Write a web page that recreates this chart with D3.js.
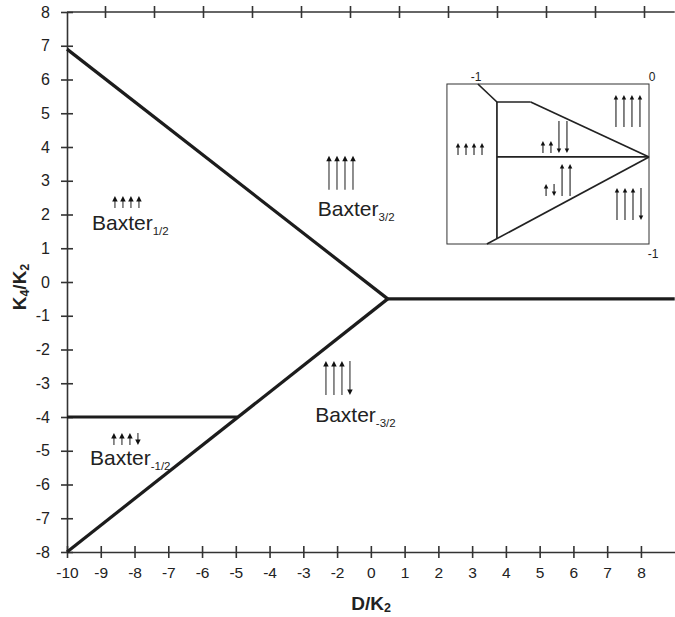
<!DOCTYPE html>
<html>
<head>
<meta charset="utf-8">
<script src="https://cdn.jsdelivr.net/npm/d3@7"></script>
<style>
body { margin: 0; background: #fff; }
svg { font-family: "Liberation Sans", Arial, sans-serif; }
.axis path, .axis line { stroke: #333; stroke-width: 1.6; }
.axis text { font-size: 15.5px; fill: #222; font-family: "Liberation Sans", Arial, sans-serif; }
.boundary { fill: none; stroke: #1c1c1c; stroke-width: 3.2; }
.inset-line { fill: none; stroke: #222; stroke-width: 1.7; }
</style>
</head>
<body>
<div id="chart"></div>
<script>

// axis ticks, as printed (the printed x axis has no "-1")
var xTickValues = [-10, -9, -8, -7, -6, -5, -4, -3, -2, -1, 0, 1, 2, 3, 4, 5, 6, 7];
var xTickLabels = ["-10", "-9", "-8", "-7", "-6", "-5", "-4", "-3", "-2", "0", "1", "2", "3", "4", "5", "6", "7", "8"];
var yTickValues = [-8, -7, -6, -5, -4, -3, -2, -1, 0, 1, 2, 3, 4, 5, 6, 7, 8];
var topTickValues = [0, 1, 2, 3, 4, 5, 6, 7, 8, 9, 10, 11];

// phase boundaries
var upperBoundary = [[-10, 6.9], [-0.5, -0.5]];
var lowerBoundary = [[-10, -8], [-0.5, -0.5]];
var rightBoundary = [[-0.5, -0.5], [8, -0.5]];
var leftBoundary = [[-10, -4], [-4.95, -4]];

// phase labels and their spin configurations
var phaseSub = ["1/2", "3/2", "-3/2", "-1/2"];
var phaseTextX = [-9.26, -2.57, -2.65, -9.32];
var phaseTextY = [1.54, 1.96, -4.15, -5.42];
var phaseSpinX = [-8.58, -2.24, -2.33, -8.61];
var phaseSpinY = [2.19, 2.73, -3.35, -4.83];
var phaseSpins = [[0.5, 0.5, 0.5, 0.5], [1.5, 1.5, 1.5, 1.5], [1.5, 1.5, 1.5, -1.5], [0.5, 0.5, 0.5, -0.5]];

// inset (zoom near the triple point)
var insetBox = [[-1.168, 0], [0, -1]];
var insetLines = [
    [[-0.989, 0], [-0.879, -0.1125]],
    [[-0.879, -0.1125], [-0.879, -0.9625]],
    [[-0.879, -0.1125], [-0.684, -0.1125]],
    [[-0.684, -0.1125], [0, -0.456]],
    [[-0.879, -0.456], [0, -0.456]],
    [[-0.937, -1], [0, -0.456]]
];
var insetTopLabels = [-1, 0];
var insetSideLabel = -1;
var insetSpinX = [-1.104, -0.191, -0.613, -0.595, -0.185];
var insetSpinY = [-0.444, -0.269, -0.431, -0.70, -0.85];
var insetSpins = [[0.5, 0.5, 0.5, 0.5], [1.5, 1.5, 1.5, 1.5], [0.5, 0.5, -1.5, -1.5], [0.5, -0.5, 1.5, 1.5], [1.5, 1.5, 1.5, -1.5]];


var svg = d3.select("#chart").append("svg")
    .attr("width", 675)
    .attr("height", 617);

var x = d3.scaleLinear().domain([-10, 8]).range([67, 674.7]);
var y = d3.scaleLinear().domain([-8, 8]).range([552, 12]);
var xTop = d3.scaleLinear().domain([0, 11]).range([105, 644]);

// bottom axis
var gx = svg.append("g")
    .attr("class", "axis")
    .attr("transform", "translate(0," + y(-8) + ")")
    .call(d3.axisBottom(x)
        .tickValues(xTickValues)
        .tickFormat(function(d, i) { return xTickLabels[i]; })
        .tickSizeInner(6).tickSizeOuter(0).tickPadding(9));
gx.selectAll(".tick line").attr("y1", -6);

// left axis
var gy = svg.append("g")
    .attr("class", "axis")
    .attr("transform", "translate(" + x(-10) + ",0)")
    .call(d3.axisLeft(y)
        .tickValues(yTickValues)
        .tickFormat(function(d) { return String(d); })
        .tickSizeInner(6).tickSizeOuter(0).tickPadding(11));
gy.selectAll(".tick line").attr("x1", 6);
gy.selectAll(".tick text").style("font-size", "16px");

// top frame line with its own ticks
svg.append("line")
    .attr("x1", x(-10)).attr("x2", x(8))
    .attr("y1", y(8)).attr("y2", y(8))
    .attr("stroke", "#333").attr("stroke-width", 1.6);
var gt = svg.append("g")
    .attr("class", "axis")
    .attr("transform", "translate(0," + y(8) + ")")
    .call(d3.axisTop(xTop).tickValues(topTickValues).tickFormat("").tickSizeInner(6).tickSizeOuter(0));
gt.select(".domain").remove();
gt.selectAll(".tick line").attr("y1", 6);

// phase boundaries
var line = d3.line()
    .x(function(d) { return x(d[0]); })
    .y(function(d) { return y(d[1]); });

svg.selectAll(".boundary")
    .data([upperBoundary, lowerBoundary, rightBoundary, leftBoundary])
    .enter().append("path")
    .attr("class", "boundary")
    .attr("d", line);

// spin arrows: short for |s|=1/2, long for |s|=3/2
function drawSpins(g, px, py, spins, shortLen, longLen, gap, head, color) {
    spins.forEach(function(s, i) {
        var cx = px + i * gap;
        var len = Math.abs(s) > 1 ? longLen : shortLen;
        var top = py - len;
        if (s > 0) {
            g.append("line").attr("x1", cx).attr("x2", cx).attr("y1", py).attr("y2", top + head - 0.5)
                .attr("stroke", color).attr("stroke-width", 1.2);
            g.append("path")
                .attr("d", "M" + (cx - head * 0.5) + "," + (top + head) + "L" + cx + "," + top + "L" + (cx + head * 0.5) + "," + (top + head) + "Z")
                .attr("fill", "#111");
        } else {
            g.append("line").attr("x1", cx).attr("x2", cx).attr("y1", top).attr("y2", py - head + 0.5)
                .attr("stroke", color).attr("stroke-width", 1.2);
            g.append("path")
                .attr("d", "M" + (cx - head * 0.5) + "," + (py - head) + "L" + cx + "," + py + "L" + (cx + head * 0.5) + "," + (py - head) + "Z")
                .attr("fill", "#111");
        }
    });
}

var labels = svg.append("g");
phaseSub.forEach(function(sub, i) {
    var t = labels.append("text")
        .attr("x", x(phaseTextX[i]))
        .attr("y", y(phaseTextY[i]))
        .attr("font-size", 21)
        .attr("fill", "#222")
        .text("Baxter");
    t.append("tspan").attr("font-size", 11.5).attr("dy", 5).text(sub);

    drawSpins(labels, x(phaseSpinX[i]), y(phaseSpinY[i]), phaseSpins[i], 12, 34, 8, 5.5, "#444");
});

// inset
var ix = d3.scaleLinear().domain([-1, 0]).range([476, 649]);
var iy = d3.scaleLinear().domain([0, -1]).range([84, 244]);
var inset = svg.append("g");

inset.append("rect")
    .attr("x", ix(insetBox[0][0])).attr("y", iy(insetBox[0][1]))
    .attr("width", ix(insetBox[1][0]) - ix(insetBox[0][0]))
    .attr("height", iy(insetBox[1][1]) - iy(insetBox[0][1]))
    .attr("fill", "none").attr("stroke", "#333").attr("stroke-width", 1);

var iline = d3.line()
    .x(function(d) { return ix(d[0]); })
    .y(function(d) { return iy(d[1]); });

inset.selectAll(".inset-line")
    .data(insetLines)
    .enter().append("path")
    .attr("class", "inset-line")
    .attr("d", iline);

inset.selectAll(".itop")
    .data(insetTopLabels)
    .enter().append("text")
    .attr("class", "itop")
    .attr("x", function(d) { return ix(d) + (d === 0 ? 3 : 0); })
    .attr("y", iy(0) - 3)
    .attr("text-anchor", "middle")
    .attr("font-size", 12)
    .attr("fill", "#222")
    .text(function(d) { return d; });

inset.append("text")
    .attr("x", ix(0) + 4)
    .attr("y", iy(insetSideLabel) + 14)
    .attr("text-anchor", "middle")
    .attr("font-size", 12)
    .attr("fill", "#222")
    .text(insetSideLabel);

insetSpins.forEach(function(spins, i) {
    drawSpins(inset, ix(insetSpinX[i]), iy(insetSpinY[i]), spins, 12, 32, 8, 4.5, "#333");
});

// axis titles
var yt = svg.append("text")
    .attr("transform", "translate(26,287) rotate(-90)")
    .attr("text-anchor", "middle")
    .attr("font-size", 19)
    .attr("font-weight", "bold")
    .attr("fill", "#222");
yt.append("tspan").text("K");
yt.append("tspan").attr("font-size", 12.5).attr("dy", 3).text("4");
yt.append("tspan").attr("dy", -3).text("/K");
yt.append("tspan").attr("font-size", 12.5).attr("dy", 3).text("2");

var xt = svg.append("text")
    .attr("x", 371)
    .attr("y", 610)
    .attr("text-anchor", "middle")
    .attr("font-size", 19)
    .attr("font-weight", "bold")
    .attr("fill", "#222");
xt.append("tspan").text("D/K");
xt.append("tspan").attr("font-size", 12.5).attr("dy", 2).text("2");

</script>
</body>
</html>
